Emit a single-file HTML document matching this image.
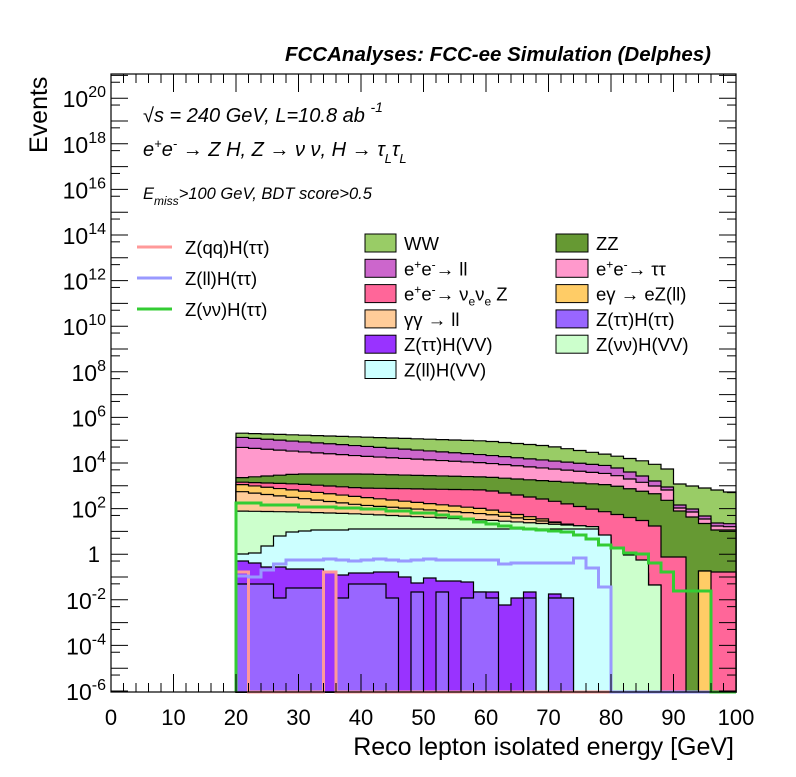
<!DOCTYPE html>
<html><head><meta charset="utf-8"><style>
body{margin:0;background:#fff;}
svg text{font-family:"Liberation Sans",Arial,sans-serif;}
</style></head><body>
<svg id="s" width="796" height="772" xmlns="http://www.w3.org/2000/svg"></svg>
<script>
const S=document.getElementById('s');let h='';
const X0=111,X1=736,Y0=74,YB=692;
const xp=g=>X0+g*(X1-X0)/100;
const yd=d=>691-(d+6)*22.8;
function interp(pts,g){if(g<=pts[0][0])return pts[0][1];for(let i=1;i<pts.length;i++){if(g<=pts[i][0]){const a=pts[i-1],b=pts[i];return a[1]+(b[1]-a[1])*(g-a[0])/(b[0]-a[0]);}}return pts[pts.length-1][1];}
function bins(pts,over){const a=[];for(let i=0;i<40;i++){const g=21+2*i;a.push(interp(pts,g));}if(over)for(const k in over)a[k]=over[k];return a;}
function fill(arr,col){let d='M'+xp(20)+','+YB;for(let i=0;i<40;i++){d+=' L'+xp(20+2*i)+','+arr[i]+' L'+xp(22+2*i)+','+arr[i];}d+=' L'+xp(100)+','+YB+' Z';h+=`<path d="${d}" fill="${col}" stroke="#000" stroke-width="1.2"/>`;}
function line(arr,col,w){let d='M'+xp(20)+','+YB;for(let i=0;i<40;i++){d+=' L'+xp(20+2*i)+','+arr[i]+' L'+xp(22+2*i)+','+arr[i];}d+=' L'+xp(100)+','+YB;h+=`<path d="${d}" fill="none" stroke="${col}" stroke-width="${w}"/>`;}
const N=YB;
const ww=bins([[20,433],[40,437],[60,441],[70,446],[80,455],[86,462],[89,469],[90,483],[96,489],[100,493]]);
const ell=bins([[20,437],[40,446],[60,455],[80,466],[86,478],[89,487],[91,505],[93,509],[97,523],[100,524]]);
const tt=bins([[20,447],[40,456],[60,463],[80,474],[86,484],[89,490],[91,508],[93,512],[97,526],[100,527]]);
const zz=bins([[20,478],[30,474],[40,474],[60,477],[80,485],[88,495],[91,511],[93,517],[97,530],[100,530]]);
const hp=bins([[20,482],[30,484],[40,488],[60,490],[70,500],[80,513],[86,522],[88,530]],{34:557,35:557,36:N,37:571,38:572,39:572});
const or=bins([[20,484],[40,497],[60,509],[70,520],[79,538],[81,550],[83,562],[85,573],[87,585]],{34:N,35:N,36:N,37:571,38:N,39:N});
const pe=bins([[20,491],[40,505],[60,514],[78,528],[81,551],[83,562],[85,574],[87,586]],{34:N,35:N,36:N,37:N,38:N,39:N});
const lg=bins([[20,511],[30,512],[40,514],[60,520],[78,527]],{29:536,30:548,31:555,32:560,33:585,34:N,35:N,36:N,37:N,38:N,39:N});
const cy=[554,553,546,536,532,531,530,530,530,529];for(let i=10;i<29;i++)cy.push(529);cy.push(535);while(cy.length<40)cy.push(N);
const pu=[561,563,567,567,569,569,569,572,575,573,573,572,572,577,583,578,581,581,582,592,592,605,598,592,N,594,598];while(pu.length<40)pu.push(N);
const vi=[584,584,584,598,588,588,588,N,598,584,584,584,598,N,592,N,592,N,598,592,598,N,N,598,N,598,598];while(vi.length<40)vi.push(N);
fill(ww,'#99cc66');fill(ell,'#cc66cc');fill(tt,'#ff99cc');fill(zz,'#669933');fill(hp,'#ff6699');fill(or,'#ffcc66');fill(pe,'#ffcc99');fill(lg,'#ccffcc');fill(cy,'#ccffff');fill(pu,'#9933ff');fill(vi,'#9966ff');
const gr=[503,503,505,505,505,507,507,507,508,508,509,509,511,511,513,513,515,517,519,522,524,526,528,529,530,531,532,535,539,545,548,553,554,563,572,591,591,591,N,N];
const bl=[576,577,570,564,560,560,560,559,560,561,560,559,560,561,560,559,560,560,560,560,560,564,563,563,563,563,563,558,568,587,N,N,N,N,N,N,N,N,N,N];
const qq=[572,N,N,N,N,N,N,572,N,N,N,N,N,N,N,N,N,N,N,N,N,N,N,N,N,N,N,N,N,N,N,N,N,N,N,N,N,N,N,N];
line(qq,'#ff9999',3);line(bl,'#9999ff',3);line(gr,'#33cc33',3);
h+=`<rect x="${X0}" y="${Y0}" width="${X1-X0}" height="${YB-Y0}" fill="none" stroke="#000" stroke-width="1.2"/>`;
for(let g=0;g<=100;g+=2){const x=xp(g),L=g%10==0?18:9;h+=`<line x1="${x}" y1="${YB}" x2="${x}" y2="${YB-L}" stroke="#000"/><line x1="${x}" y1="${Y0}" x2="${x}" y2="${Y0+L}" stroke="#000"/>`;if(g%10==0)h+=`<text x="${x}" y="725" font-size="22" text-anchor="middle">${g}</text>`;}
for(let d=-6;d<=21;d++){const y=yd(d);if(y>=Y0&&y<=YB){h+=`<line x1="${X0}" y1="${y}" x2="${X0+17}" y2="${y}" stroke="#000"/><line x1="${X1}" y1="${y}" x2="${X1-17}" y2="${y}" stroke="#000"/>`;}
const y2=yd(d-0.3);if(y2>=Y0&&y2<=YB){h+=`<line x1="${X0}" y1="${y2}" x2="${X0+9}" y2="${y2}" stroke="#000"/><line x1="${X1}" y1="${y2}" x2="${X1-9}" y2="${y2}" stroke="#000"/>`;}
if(d%2==0&&d<=20){if(d==0)h+=`<text x="100" y="${y+8}" font-size="22" text-anchor="end">1</text>`;else h+=`<text x="106" y="${y+9}" font-size="23" text-anchor="end">10<tspan dy="-10" font-size="16">${d}</tspan></text>`;}}
h+=`<text x="711" y="61" font-size="20.5" font-weight="bold" font-style="italic" text-anchor="end">FCCAnalyses: FCC-ee Simulation (Delphes)</text>`;
h+=`<text x="734" y="755" font-size="25" text-anchor="end">Reco lepton isolated energy [GeV]</text>`;
h+=`<text transform="translate(47,153) rotate(-90)" font-size="25">Events</text>`;
h+=`<text x="143" y="122" font-size="20" font-style="italic"><tspan font-style="normal">√</tspan>s = 240 GeV, L=10.8 ab <tspan dy="-10" font-size="14">-1</tspan></text>`;
h+=`<text x="143" y="156" font-size="20" font-style="italic">e<tspan dy="-8" font-size="13">+</tspan><tspan dy="8">e</tspan><tspan dy="-8" font-size="13">-</tspan><tspan dy="8"> → Z H, Z  → ν ν, H → τ</tspan><tspan dy="7" font-size="13">L</tspan><tspan dy="-7">τ</tspan><tspan dy="7" font-size="13">L</tspan></text>`;
h+=`<text x="143" y="199" font-size="16.5" font-style="italic">E<tspan dy="6" font-size="12">miss</tspan><tspan dy="-6">&gt;100 GeV, BDT score&gt;0.5</tspan></text>`;
[['Z(qq)H(ττ)','#ff9999',247],['Z(ll)H(ττ)','#9999ff',278],['Z(νν)H(ττ)','#33cc33',309]].forEach(a=>{h+=`<line x1="137" y1="${a[2]}" x2="172" y2="${a[2]}" stroke="${a[1]}" stroke-width="3"/><text x="185" y="${a[2]+7}" font-size="18.5">${a[0]}</text>`;});
const sp=(t)=>`<tspan dy="-7" font-size="12">${t}</tspan>`;
const L1=[['WW','#99cc66'],[`e${sp('+')}<tspan dy="7">e</tspan>${sp('-')}<tspan dy="7">→ ll</tspan>`,'#cc66cc'],[`e${sp('+')}<tspan dy="7">e</tspan>${sp('-')}<tspan dy="7">→ ν</tspan><tspan dy="5" font-size="12">e</tspan><tspan dy="-5">ν</tspan><tspan dy="5" font-size="12">e</tspan><tspan dy="-5"> Z</tspan>`,'#ff6699'],['γγ → ll','#ffcc99'],['Z(ττ)H(VV)','#9933ff'],['Z(ll)H(VV)','#ccffff']];
const L2=[['ZZ','#669933'],[`e${sp('+')}<tspan dy="7">e</tspan>${sp('-')}<tspan dy="7">→ ττ</tspan>`,'#ff99cc'],['eγ → eZ(ll)','#ffcc66'],['Z(ττ)H(ττ)','#9966ff'],['Z(νν)H(VV)','#ccffcc']];
L1.forEach((a,i)=>{const y=234+i*25.3;h+=`<rect x="365" y="${y}" width="31" height="18" fill="${a[1]}" stroke="#000"/><text x="404" y="${y+16}" font-size="18.5">${a[0]}</text>`;});
L2.forEach((a,i)=>{const y=234+i*25.3;h+=`<rect x="556" y="${y}" width="32" height="18" fill="${a[1]}" stroke="#000"/><text x="596" y="${y+16}" font-size="18.5">${a[0]}</text>`;});
S.innerHTML=h;
</script>
</body></html>
